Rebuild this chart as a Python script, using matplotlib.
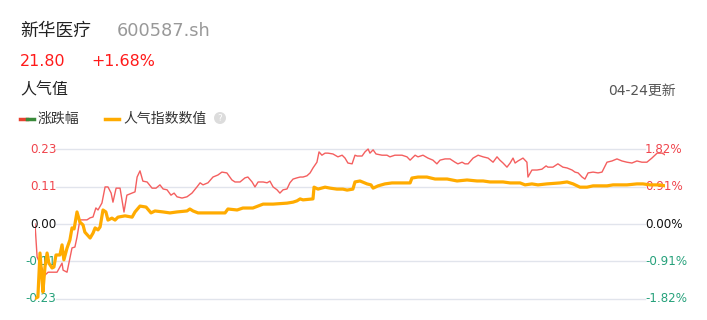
import matplotlib
matplotlib.use("Agg")
import matplotlib.pyplot as plt
from matplotlib.transforms import blended_transform_factory
from matplotlib.patches import Circle

plt.rcParams['font.family'] = ['DejaVu Sans', 'Noto Sans CJK SC']

# ---------------- data ----------------
title_name = "新华医疗"
title_code = "600587.sh"
price = "21.80"
change = "+1.68%"
section = "人气值"
updated = "04-24更新"
legend_labels = ["涨跌幅", "人气指数数值"]
x_tick_labels = ["09:30", "11:30/13:00", "15:00"]
x_tick_pos = [0, 120, 240]
left_ticks = [0.23, 0.115, 0.0, -0.115, -0.23]
left_tick_labels = ["0.23", "0.11", "0.00", "-0.11", "-0.23"]
right_ticks = [1.82, 0.91, 0.0, -0.91, -1.82]
right_tick_labels = ["1.82%", "0.91%", "0.00%", "-0.91%", "-1.82%"]

# 涨跌幅 (%), minute index since 09:30
chg_t = [0, 0.8, 3.8, 5.0, 8.4, 9.5, 10.3, 10.7, 12.2, 14.1, 15.2, 16.0, 17.1, 19.8, 21.0, 22.1,
         23.2, 24.0, 25.5, 26.7, 27.8, 29.0, 29.7, 30.9, 32.4, 33.9, 35.0, 37.0, 38.1, 38.9, 40.0,
         41.1, 42.7, 44.6, 46.1, 47.6, 48.8, 50.3, 51.8, 53.0, 54.1, 56.0, 57.9, 59.8, 61.7, 62.9,
         64.0, 65.9, 67.8, 69.7, 71.2, 73.1, 75.0, 76.2, 78.1, 80.0, 81.1, 82.7, 83.8, 85.0, 86.9,
         88.4, 89.5, 90.7, 92.2, 93.3, 94.5, 96.0, 97.1, 98.3, 99.8, 101.0, 102.1, 103.6, 104.8,
         105.9, 107.4, 108.2, 109.3, 110.5, 111.6, 113.5, 115.4, 117.0, 118.1, 119.2, 120.8, 121.9,
         122.7, 124.6, 125.7, 126.9, 127.6, 128.8, 129.9, 132.2, 134.1, 135.2, 137.1, 139.8, 141.7,
         142.9, 144.8, 145.9, 147.8, 149.7, 151.6, 153.1, 154.3, 156.2, 158.1, 160.0, 161.1, 162.7,
         163.8, 165.0, 166.9, 168.8, 170.7, 172.6, 174.5, 176.0, 177.1, 178.3, 179.8, 181.0, 182.1,
         182.9, 184.0, 185.9, 187.4, 187.8, 189.3, 191.2, 193.1, 194.7, 195.4, 197.3, 199.2, 201.1,
         202.7, 204.6, 205.7, 206.9, 208.4, 209.5, 210.7, 212.6, 214.5, 216.0, 217.9, 219.8, 221.7,
         223.6, 225.5, 227.4, 229.3, 231.2, 233.1, 235.0, 237.0, 238.9, 240]
chg_v = [0.00, -0.80, -1.24, -1.17, -1.17, -1.04, -0.95, -1.12, -1.17, -0.58, -0.56, -0.32, 0.10,
         0.10, 0.15, 0.17, 0.39, 0.34, 0.51, 0.90, 0.90, 0.75, 0.53, 0.87, 0.87, 0.29, 0.70, 0.75,
         0.78, 1.14, 1.29, 1.04, 1.02, 0.87, 0.87, 0.95, 0.85, 0.83, 0.70, 0.75, 0.66, 0.63, 0.66,
         0.75, 0.90, 1.00, 0.95, 1.00, 1.14, 1.19, 1.26, 1.24, 1.07, 1.02, 1.02, 1.12, 1.14, 1.02,
         0.90, 1.02, 1.02, 1.00, 1.04, 0.90, 0.83, 0.75, 0.83, 0.85, 1.00, 1.09, 1.12, 1.14, 1.14,
         1.17, 1.24, 1.36, 1.50, 1.75, 1.67, 1.72, 1.72, 1.70, 1.63, 1.67, 1.60, 1.48, 1.46, 1.67,
         1.65, 1.65, 1.75, 1.82, 1.72, 1.80, 1.70, 1.67, 1.67, 1.63, 1.67, 1.67, 1.63, 1.55, 1.67,
         1.63, 1.67, 1.60, 1.55, 1.46, 1.55, 1.58, 1.58, 1.50, 1.46, 1.50, 1.46, 1.46, 1.60, 1.67,
         1.63, 1.60, 1.50, 1.63, 1.55, 1.48, 1.38, 1.48, 1.60, 1.48, 1.53, 1.60, 1.50, 1.14, 1.31,
         1.31, 1.33, 1.41, 1.38, 1.38, 1.46, 1.38, 1.36, 1.31, 1.26, 1.24, 1.14, 1.09, 1.24, 1.26,
         1.24, 1.26, 1.50, 1.53, 1.58, 1.53, 1.50, 1.48, 1.53, 1.50, 1.50, 1.60, 1.72, 1.72, 1.68]

# 人气指数数值
pop_t = [0.4, 1.1, 1.9, 2.7, 3.0, 3.8, 4.6, 5.3, 6.5, 7.2, 8.0, 9.5, 10.3, 11.0, 12.2, 13.3, 14.1,
         14.9, 16.0, 17.1, 18.3, 19.0, 21.0, 22.1, 22.9, 24.0, 24.8, 25.9, 27.0, 27.8, 29.3, 30.5,
         31.6, 34.3, 37.0, 38.1, 40.0, 42.3, 44.2, 45.7, 48.8, 51.4, 54.1, 57.9, 59.0, 60.2, 62.1,
         65.5, 69.3, 72.4, 73.5, 77.0, 79.2, 83.0, 86.9, 90.7, 96.0, 98.3, 99.8, 101.0, 102.1,
         105.9, 106.3, 107.8, 110.5, 112.4, 115.0, 117.3, 118.9, 121.1, 121.9, 123.8, 126.5, 128.0,
         128.8, 130.7, 133.3, 136.0, 139.8, 142.9, 143.6, 145.9, 149.3, 152.4, 157.0, 160.8, 164.6,
         168.4, 170.7, 173.3, 178.3, 181.0, 184.8, 186.7, 189.3, 191.6, 195.0, 200.0, 202.7, 205.0,
         207.6, 210.3, 212.6, 217.9, 220.2, 225.5, 229.3, 231.6, 234.3, 238.1, 240]
pop_v = [-0.227, -0.224, -0.089, -0.172, -0.209, -0.132, -0.089, -0.120, -0.135, -0.132, -0.095,
         -0.095, -0.064, -0.110, -0.074, -0.049, -0.012, -0.015, 0.037, 0.006, -0.003, -0.025,
         -0.043, -0.028, -0.012, -0.018, -0.009, 0.043, 0.037, 0.012, 0.018, 0.012, 0.021, 0.025,
         0.021, 0.037, 0.055, 0.052, 0.034, 0.040, 0.037, 0.034, 0.037, 0.040, 0.046, 0.040, 0.034,
         0.034, 0.034, 0.034, 0.046, 0.043, 0.049, 0.049, 0.061, 0.061, 0.064, 0.067, 0.071, 0.077,
         0.074, 0.077, 0.113, 0.107, 0.113, 0.110, 0.107, 0.107, 0.104, 0.107, 0.129, 0.132, 0.123,
         0.120, 0.110, 0.117, 0.123, 0.126, 0.126, 0.126, 0.141, 0.144, 0.144, 0.138, 0.138, 0.132,
         0.135, 0.132, 0.132, 0.129, 0.129, 0.126, 0.126, 0.120, 0.123, 0.120, 0.123, 0.126, 0.129,
         0.123, 0.113, 0.113, 0.117, 0.117, 0.120, 0.120, 0.123, 0.123, 0.120, 0.120, 0.117]

# ---------------- styling ----------------
W, H = 707, 320
RED = '#f0444c'
GREEN = '#26a17b'
LINE_RED = '#f45f5f'
YELLOW = '#ffab00'
GRID = '#e1e4ec'

fig = plt.figure(figsize=(W / 100, H / 100), dpi=100)

def fx(px):
    return px / W

def fy(py):
    return 1 - py / H

ax_l, ax_r, ax_top, ax_bot = 35, 665, 138, 310
ax2 = fig.add_axes([fx(ax_l), fy(ax_bot), fx(ax_r - ax_l), (ax_bot - ax_top) / H])
ax = ax2.twinx()
lim_l = 0.2638
lim_r = lim_l * 1.82 / 0.23
ax.set_ylim(-lim_l, lim_l)
ax2.set_ylim(-lim_r, lim_r)
for a in (ax, ax2):
    a.set_xlim(0, 240)
    for s in a.spines.values():
        s.set_visible(False)
    a.set_xticks([])
    a.set_yticks([])
    a.patch.set_visible(False)
ax.set_zorder(ax2.get_zorder() + 1)

g0 = (56 - ax_l) / (ax_r - ax_l)
g1 = (645 - ax_l) / (ax_r - ax_l)
for v in right_ticks:
    ax2.axhline(v, xmin=g0, xmax=g1, color=GRID, lw=1, zorder=0)

ax2.plot(chg_t, chg_v, color=LINE_RED, lw=1.0, zorder=2)
ax.plot(pop_t, pop_v, color=YELLOW, lw=2.3, zorder=3, solid_joinstyle='round')

# tick labels
trL = blended_transform_factory(fig.transFigure, ax.transData)
trR = blended_transform_factory(fig.transFigure, ax2.transData)

def tick_color(v):
    if v > 0:
        return RED
    if v < 0:
        return GREEN
    return '#111111'

for v, lab in zip(left_ticks, left_tick_labels):
    ax.text(fx(56.5), v, lab, transform=trL, ha='right', va='center', fontsize=8.6,
            color=tick_color(v), zorder=1)
for v, lab in zip(right_ticks, right_tick_labels):
    ax2.text(fx(645), v, lab, transform=trR, ha='left', va='center', fontsize=8.6,
             color=tick_color(v), zorder=1)

trX = blended_transform_factory(ax.transData, fig.transFigure)
for t, lab in zip(x_tick_pos, x_tick_labels):
    ax.text(t, fy(327.5), lab, transform=trX, ha='center', va='center', fontsize=8.6,
            color='#333333', clip_on=False)

# header texts
fig.text(fx(20), fy(31), title_name, fontsize=12.8, color='#222222', va='center', ha='left')
fig.text(fx(117), fy(31), title_code, fontsize=12.8, color='#999999', va='center', ha='left')
fig.text(fx(20), fy(61), price, fontsize=11.4, color='#ff1a1a', va='center', ha='left')
fig.text(fx(91), fy(61), change, fontsize=11.4, color='#ff1a1a', va='center', ha='left')
fig.text(fx(20), fy(90), section, fontsize=11.5, color='#222222', va='center', ha='left')
fig.text(fx(676), fy(91), updated, fontsize=10, color='#555555', va='center', ha='right')

# legend
fig.add_artist(plt.Line2D([fx(20), fx(27)], [fy(119), fy(119)], color='#e8412f', lw=2.5))
fig.add_artist(plt.Line2D([fx(27), fx(34)], [fy(119), fy(119)], color='#3a8a3a', lw=2.5))
fig.text(fx(38), fy(119), legend_labels[0], fontsize=10, color='#333333', va='center', ha='left')
fig.add_artist(plt.Line2D([fx(105), fx(119)], [fy(119), fy(119)], color=YELLOW, lw=2.5))
fig.text(fx(123), fy(119), legend_labels[1], fontsize=10, color='#333333', va='center', ha='left')
circ = Circle((220, H - 118), 6, transform=None, facecolor='#dcdcdc', edgecolor='none')
fig.add_artist(circ)
fig.text(fx(220), fy(118.5), "?", fontsize=6.5, color='white', va='center', ha='center')

fig.savefig('out.png', dpi=100)
